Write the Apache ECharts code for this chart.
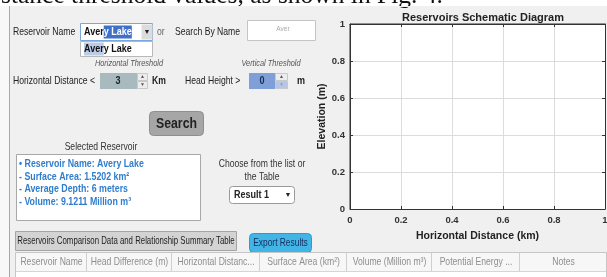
<!DOCTYPE html>
<html><head><meta charset="utf-8">
<script src="https://cdn.jsdelivr.net/npm/echarts@6/dist/echarts.min.js"></script>
<style>html,body{margin:0;padding:0;background:#fff}#c{width:607px;height:277px}</style>
</head><body><div id="c"></div>
<script>
// ---- data (axis ticks, texts) ----
const xTicks = [0, 0.2, 0.4, 0.6, 0.8, 1];
const yTicks = [0, 0.2, 0.4, 0.6, 0.8, 1];
const seriesPoints = []; // the schematic diagram is empty
const chartTitle = 'Reservoirs Schematic Diagram';
const xName = 'Horizontal Distance (km)';
const yName = 'Elevation (m)';
const infoLines = ['• Reservoir Name: Avery Lake', '- Surface Area: 1.5202 km²', '- Average Depth: 6 meters', '- Volume: 9.1211 Million m³'];
const tableHeaders = ['Reservoir Name', 'Head Difference (m)', 'Horizontal Distanc...', 'Surface Area (km²)', 'Volume (Million m³)', 'Potential Energy ...', 'Notes'];
const topText = 'stance threshold values, as shown in Fig. 4.';

const NF = '"Liberation Sans", Arial, sans-serif';
function F(size, weight, style) { return (style||'normal') + ' ' + (weight||'normal') + ' ' + size + 'px ' + NF; }
function T(x, y, text, o) {
  o = o || {};
  return { type: 'text', x: x, y: y, z: 100, scaleX: o.sx || 0.82,
    style: { x: 0, y: 0, text: text, font: o.font || F(10.5), fill: o.fill || '#222', textAlign: o.align || 'left', textVerticalAlign: 'middle', rich: o.rich } };
}
function R(x, y, w, h, fill, stroke, r) {
  return { type: 'rect', z: 99, shape: { x: x, y: y, width: w, height: h, r: r || 0 }, style: { fill: fill, stroke: stroke || null, lineWidth: 1 } };
}
const g = [];
// top document strip
g.push(R(0, 0, 607, 6, '#fff', null));
g.push({ type: 'text', z: 100, x: 1, y: 9.5, style: { x: 0, y: 0, text: topText, font: 'normal 25.5px "Liberation Serif", serif', fill: '#111', textAlign: 'left', textVerticalAlign: 'bottom' } });
g.push(R(0, 6, 607, 1, '#f0f0f0', null)); g[g.length - 1].z = 101;
g.push(R(0, 6, 9, 271, '#f8f8f8', null)); g[g.length - 1].z = 101;
g.push({ type: 'line', z: 102, shape: { x1: 9.5, y1: 6, x2: 9.5, y2: 277 }, style: { stroke: '#a8a8a8', lineWidth: 1 } });

// row 1
g.push(T(13, 32, 'Reservoir Name'));
g.push(R(80.5, 23.5, 72, 17, '#fff', '#7ba6d8'));
g.push(R(141.5, 24.5, 11, 15, '#dcdcdc', null));
g.push(T(147, 32, '▼', { font: '7px sans-serif', align: 'center', fill: '#222', sx: 1 }));
g.push(T(84, 32, '{a|Aver}{b|y Lake}', { rich: { a: { font: F(11, 'bold'), fill: '#111' }, b: { font: F(11, 'bold'), fill: '#fff', backgroundColor: '#3f71c8', padding: [1, 0, 1, 0] } } }));
g.push(R(80.5, 41.5, 72, 15, '#fff', '#b8b8b8'));
g.push(T(84, 49, '{a|Aver}{b|y Lake}', { rich: { a: { font: F(11, 'bold'), fill: '#111', backgroundColor: '#bccbe8', padding: [1, 0, 1, 0] }, b: { font: F(11, 'bold'), fill: '#111' } } }));
g.push(T(157, 32, 'or', { fill: '#666' }));
g.push(T(175, 32, 'Search By Name'));
g.push(R(247.5, 20.5, 68, 20, '#fff', '#c4c4c4'));
g.push(T(283, 29, 'Aver', { font: F(8), fill: '#aaa', align: 'center' }));

// row 2
g.push(T(163, 63, 'Horizontal Threshold', { font: F(9, 'normal', 'italic'), fill: '#555', align: 'right' }));
g.push(T(271, 63, 'Vertical Threshold', { font: F(9, 'normal', 'italic'), fill: '#555', align: 'center' }));
g.push(T(13, 81, 'Horizontal Distance <'));
g.push(R(100, 73, 37, 16, '#a9babe', null));
g.push(T(118, 81, '3', { font: F(11, 'bold'), align: 'center', fill: '#222' }));
g.push(R(137.5, 73.5, 10, 7, '#ececec', '#c8c8c8'));
g.push(R(137.5, 81.5, 10, 7, '#ececec', '#c8c8c8'));
g.push(T(142.5, 77, '▲', { font: '5px sans-serif', align: 'center', fill: '#555', sx: 1 }));
g.push(T(142.5, 85, '▼', { font: '5px sans-serif', align: 'center', fill: '#555', sx: 1 }));
g.push(T(152, 81, 'Km', { font: F(10.5, 'bold') }));
g.push(T(185, 81, 'Head Height >'));
g.push(R(249, 73, 26, 16, '#7e9fd8', null));
g.push(T(262, 81, '0', { font: F(11, 'bold'), align: 'center', fill: '#1d2c4d' }));
g.push(R(275.5, 73.5, 12, 7, '#ececec', '#c8c8c8'));
g.push(R(275.5, 81.5, 12, 7, '#b7c6e6', '#c8c8c8'));
g.push(T(281.5, 77, '▲', { font: '5px sans-serif', align: 'center', fill: '#555', sx: 1 }));
g.push(T(281.5, 85, '▼', { font: '5px sans-serif', align: 'center', fill: '#8aa', sx: 1 }));
g.push(T(297, 81, 'm', { font: F(11, 'bold') }));

// search button
g.push(R(149.5, 111.5, 54, 24, '#a6a6a6', '#8e8e8e', 4));
g.push(T(176.5, 123.5, 'Search', { font: F(15, 'bold'), align: 'center', fill: '#222' }));

// selected reservoir
g.push(T(101, 147, 'Selected Reservoir', { align: 'center', fill: '#333' }));
g.push(R(16.5, 154.5, 184, 66, '#fff', '#a8a8a8'));
infoLines.forEach(function (s, i) { g.push(T(19, 164 + i * 12.7, s, { font: F(10.5, 'bold'), fill: '#2f7dcc', sx: 0.84 })); });

g.push(T(262, 164, 'Choose from the list or', { align: 'center', fill: '#333' }));
g.push(T(262, 177, 'the Table', { align: 'center', fill: '#333' }));
g.push(R(229.5, 186.5, 65, 17, '#fff', '#9a9a9a', 3));
g.push(T(234, 195, 'Result 1', { font: F(11, 'bold') }));
g.push(T(288, 195, '▼', { font: '7px sans-serif', align: 'center', sx: 1 }));

// table
g.push(R(15.5, 231.5, 221, 19, '#d3d3d3', '#a4a4a4'));
g.push(T(126, 241, 'Reservoirs Comparison Data and Relationship Summary Table', { font: F(10.5), align: 'center', fill: '#222', sx: 0.745 }));
g.push(R(249.5, 233.5, 62, 19, '#40b5e6', '#2b9bd0', 4));
g.push(T(280.5, 243, 'Export Results', { font: F(10.5), align: 'center', fill: '#1a3060', sx: 0.8 }));
g.push(R(15.5, 252.5, 591, 30, '#fff', '#c6c6c6'));
g.push(R(16, 253, 590, 18, '#f7f7f7', null));
g.push({ type: 'line', z: 99, shape: { x1: 16, y1: 271.5, x2: 606, y2: 271.5 }, style: { stroke: '#d6d6d6' } });
const seps = [15, 86, 171, 259, 346, 431, 519, 606];
tableHeaders.forEach(function (h, i) {
  if (i > 0) g.push({ type: 'line', z: 99, shape: { x1: seps[i] + 0.5, y1: 253, x2: seps[i] + 0.5, y2: 271 }, style: { stroke: '#cfcfcf' } });
  g.push(T((seps[i] + seps[i + 1]) / 2 + 1, 262, h, { font: F(10.5), align: 'center', fill: '#8e8e8e', sx: 0.82 }));
});

const chart = echarts.init(document.getElementById('c'), null, { renderer: 'canvas' });
function axisBase() {
  return {
    type: 'value', min: 0, max: 1, interval: 0.2,
    axisLine: { show: true, onZero: false, lineStyle: { color: '#333', width: 1 } },
    axisTick: { show: true, inside: true, length: 3, lineStyle: { color: '#333' } }
  };
}
const fmt = function (v) { return String(+v.toFixed(1)); };
chart.setOption({
  backgroundColor: '#f0f0f0',
  animation: false,
  title: { text: chartTitle, left: 478, top: 7, textAlign: 'center', textStyle: { fontFamily: NF, fontSize: 11, fontWeight: 'bold', color: '#222' } },
  grid: { left: 350, right: 2, top: 24, bottom: 68, show: true, backgroundColor: 'rgba(0,0,0,0)', borderColor: '#333', borderWidth: 1, containLabel: false, outerBoundsMode: 'none' },
  xAxis: [
    Object.assign(axisBase(), {
      position: 'bottom', name: xName, nameLocation: 'middle', nameGap: 22,
      nameTextStyle: { fontFamily: NF, fontSize: 10.5, fontWeight: 'bold', color: '#222' },
      axisLabel: { margin: 6, fontFamily: NF, fontSize: 9.5, fontWeight: 'bold', color: '#333', showMaxLabel: true, hideOverlap: false, formatter: fmt },
      splitLine: { show: true, lineStyle: { color: '#dcdcdc' } }
    }),
    Object.assign(axisBase(), { position: 'top', axisLabel: { show: false }, splitLine: { show: false } })
  ],
  yAxis: [
    Object.assign(axisBase(), {
      position: 'left', name: yName, nameLocation: 'middle', nameGap: 14,
      nameTextStyle: { fontFamily: NF, fontSize: 10.5, fontWeight: 'bold', color: '#222' },
      axisLabel: { margin: 5, fontFamily: NF, fontSize: 9.5, fontWeight: 'bold', color: '#333', formatter: fmt },
      splitLine: { show: true, lineStyle: { color: '#dcdcdc' } },
      splitArea: { show: true, areaStyle: { color: ['#ffffff'] } }
    }),
    Object.assign(axisBase(), { position: 'right', axisLabel: { show: false }, splitLine: { show: false } })
  ],
  series: [{ type: 'line', data: seriesPoints, xAxisIndex: 0, yAxisIndex: 0, symbol: 'none' }],
  graphic: g
});
</script>
</body></html>
